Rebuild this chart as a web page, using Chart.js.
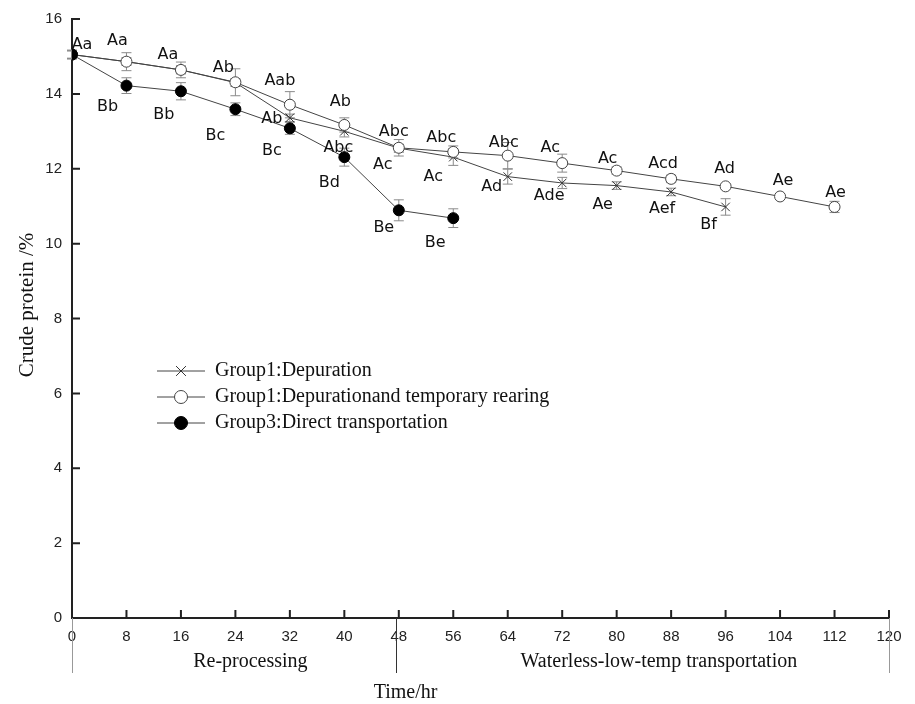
<!DOCTYPE html>
<html>
<head>
<meta charset="utf-8">
<script src="https://cdn.jsdelivr.net/npm/chart.js@4.4.0/dist/chart.umd.min.js"></script>
<style>
  html, body { margin: 0; padding: 0; background: #fff; }
  #wrap { width: 915px; height: 704px; }
</style>
</head>
<body>
<div id="wrap"><canvas id="chart" width="915" height="704"></canvas></div>
<script>
// sampling times (hr)
const hours = [0, 8, 16, 24, 32, 40, 48, 56, 64, 72, 80, 88, 96, 104, 112];
const xTickValues = [0, 8, 16, 24, 32, 40, 48, 56, 64, 72, 80, 88, 96, 104, 112, 120];
const yTickValues = [0, 2, 4, 6, 8, 10, 12, 14, 16];

// Group1: Depuration
const depValues = [15.05, 14.86, 14.64, 14.30, 13.36, 13.00, 12.55, 12.31, 11.79, 11.62, 11.55, 11.38, 10.98];
const depErrors = [0.10, 0.10, 0.10, 0.10, 0.10, 0.15, 0.10, 0.22, 0.20, 0.15, 0.10, 0.10, 0.22];
const depLetters = ['', '', '', '', 'Ab', 'Abc', 'Ac', 'Ac', 'Ad', 'Ade', 'Ae', 'Aef', 'Bf'];

// Group1: Depuration and temporary rearing
const rearValues = [15.05, 14.86, 14.64, 14.31, 13.71, 13.17, 12.56, 12.45, 12.35, 12.15, 11.95, 11.73, 11.53, 11.26, 10.98];
const rearErrors = [0.10, 0.24, 0.21, 0.36, 0.35, 0.19, 0.22, 0.16, 0.35, 0.24, 0.10, 0.10, 0.05, 0.05, 0.15];
const rearLetters = ['Aa', 'Aa', 'Aa', 'Ab', 'Aab', 'Ab', 'Abc', 'Abc', 'Abc', 'Ac', 'Ac', 'Acd', 'Ad', 'Ae', 'Ae'];

// Group3: Direct transportation
const directValues = [15.05, 14.22, 14.07, 13.59, 13.08, 12.31, 10.89, 10.68];
const directErrors = [0.12, 0.21, 0.23, 0.17, 0.16, 0.24, 0.28, 0.25];
const directLetters = ['', 'Bb', 'Bb', 'Bc', 'Bc', 'Bd', 'Be', 'Be'];

const seriesNames = ['Group1:Depuration', 'Group1:Depurationand temporary rearing', 'Group3:Direct transportation'];
const stageNames = ['Re-processing', 'Waterless-low-temp transportation'];
const stageBounds = [0, 48, 120];

// letter label offsets from the point (px)
const depOffsets = [[0,0],[0,0],[0,0],[0,0],[-18,1],[-6,17],[-16,17],[-20,20],[-16,10],[-13,13],[-14,19],[-9,17],[-17,18]];
const rearOffsets = [[10,-10],[-9,-21],[-13,-15],[-12,-14],[-10,-24],[-4,-23],[-5,-16],[-12,-14],[-4,-13],[-12,-15],[-9,-12],[-8,-15],[-1,-18],[3,-16],[1,-14]];
const directOffsets = [[0,0],[-19,21],[-17,24],[-20,27],[-18,23],[-15,26],[-15,18],[-18,25]];

const toPoints = vals => vals.map((v, i) => ({ x: hours[i], y: v }));

const errorSets = [depErrors, rearErrors, directErrors];
const letterSets = [depLetters, rearLetters, directLetters];
const offsetSets = [depOffsets, rearOffsets, directOffsets];

const decor = {
    id: 'decor',
    beforeDatasetsDraw(chart) {
        const ctx = chart.ctx;
        const y = chart.scales.y;
        ctx.save();
        ctx.strokeStyle = '#8a8a8a';
        ctx.lineWidth = 1;
        chart.data.datasets.forEach((ds, di) => {
            const meta = chart.getDatasetMeta(di);
            meta.data.forEach((pt, i) => {
                const v = ds.data[i].y, e = errorSets[di][i];
                const top = y.getPixelForValue(v + e), bot = y.getPixelForValue(v - e);
                ctx.beginPath();
                ctx.moveTo(pt.x, top); ctx.lineTo(pt.x, bot);
                ctx.moveTo(pt.x - 5, top); ctx.lineTo(pt.x + 5, top);
                ctx.moveTo(pt.x - 5, bot); ctx.lineTo(pt.x + 5, bot);
                ctx.stroke();
            });
        });
        ctx.restore();
    },
    afterDraw(chart) {
        const ctx = chart.ctx;
        const xs = chart.scales.x, ys = chart.scales.y;
        const area = chart.chartArea;
        ctx.save();

        // inward tick marks
        ctx.strokeStyle = '#222';
        ctx.lineWidth = 2;
        ctx.beginPath();
        xTickValues.forEach(v => {
            const px = xs.getPixelForValue(v);
            ctx.moveTo(px, area.bottom); ctx.lineTo(px, area.bottom - 8);
        });
        yTickValues.forEach(v => {
            const py = ys.getPixelForValue(v);
            ctx.moveTo(area.left, py); ctx.lineTo(area.left + 8, py);
        });
        ctx.stroke();

        // stage separators
        stageBounds.forEach((b, i) => {
            const px = Math.round(xs.getPixelForValue(b)) + (i === 1 ? -3 : 0) + 0.5;
            ctx.strokeStyle = i === 1 ? '#333' : '#999';
            ctx.lineWidth = 1;
            ctx.beginPath();
            ctx.moveTo(px, area.bottom); ctx.lineTo(px, area.bottom + 55);
            ctx.stroke();
        });

        // stage names and axis titles
        ctx.fillStyle = '#111';
        ctx.font = '20px "Liberation Serif", serif';
        ctx.textAlign = 'center';
        ctx.textBaseline = 'middle';
        stageNames.forEach((s, i) => {
            const mid = (xs.getPixelForValue(stageBounds[i]) + xs.getPixelForValue(stageBounds[i + 1])) / 2;
            ctx.fillText(s, mid + 15, area.bottom + 44);
        });
        ctx.fillText('Time/hr', xs.getPixelForValue(49), area.bottom + 75);
        ctx.save();
        ctx.translate(27, 305);
        ctx.rotate(-Math.PI / 2);
        ctx.font = '21px "Liberation Serif", serif';
        ctx.fillText('Crude protein /%', 0, 0);
        ctx.restore();

        // significance letters
        ctx.font = '16px "DejaVu Sans", sans-serif';
        chart.data.datasets.forEach((ds, di) => {
            const meta = chart.getDatasetMeta(di);
            meta.data.forEach((pt, i) => {
                const t = letterSets[di][i];
                if (!t) return;
                const off = offsetSets[di][i];
                ctx.fillText(t, pt.x + off[0], pt.y + off[1]);
            });
        });

        // legend
        const rows = [371, 397, 423];
        chart.data.datasets.forEach((ds, di) => {
            const ry = rows[di];
            ctx.strokeStyle = '#444';
            ctx.lineWidth = 1;
            ctx.beginPath();
            ctx.moveTo(157, ry); ctx.lineTo(205, ry);
            ctx.stroke();
            ctx.fillStyle = ds.pointBackgroundColor;
            ctx.strokeStyle = ds.pointBorderColor;
            ctx.lineWidth = ds.pointBorderWidth;
            Chart.helpers.drawPoint(ctx, {
                pointStyle: ds.pointStyle,
                radius: ds.pointRadius + 1,
                rotation: 0,
                borderWidth: ds.pointBorderWidth
            }, 181, ry);
            ctx.fillStyle = '#111';
            ctx.font = '20px "Liberation Serif", serif';
            ctx.textAlign = 'left';
            ctx.fillText(seriesNames[di], 215, ry);
        });
        ctx.restore();
    }
};

new Chart(document.getElementById('chart'), {
    type: 'line',
    data: {
        datasets: [
            {
                label: seriesNames[0],
                data: toPoints(depValues),
                order: 2,
                borderColor: '#444',
                borderWidth: 1,
                pointStyle: 'crossRot',
                pointRadius: 6,
                pointBorderColor: '#333',
                pointBackgroundColor: '#fff',
                pointBorderWidth: 1,
                tension: 0
            },
            {
                label: seriesNames[1],
                data: toPoints(rearValues),
                order: 1,
                borderColor: '#444',
                borderWidth: 1,
                pointStyle: 'circle',
                pointRadius: 5.5,
                pointBorderColor: '#444',
                pointBackgroundColor: '#fff',
                pointBorderWidth: 1,
                tension: 0
            },
            {
                label: seriesNames[2],
                data: toPoints(directValues),
                order: 0,
                borderColor: '#444',
                borderWidth: 1,
                pointStyle: 'circle',
                pointRadius: 5.5,
                pointBorderColor: '#000',
                pointBackgroundColor: '#000',
                pointBorderWidth: 1,
                tension: 0
            }
        ]
    },
    options: {
        responsive: false,
        animation: false,
        layout: { padding: { top: 17, right: 26, left: 0, bottom: 0 } },
        plugins: {
            legend: { display: false },
            tooltip: { enabled: false }
        },
        scales: {
            x: {
                type: 'linear',
                min: 0,
                max: 120,
                afterFit(scale) { scale.height = 86; },
                afterBuildTicks(scale) { scale.ticks = xTickValues.map(v => ({ value: v })); },
                grid: { display: false, drawTicks: false },
                border: { display: true, color: '#222', width: 2 },
                ticks: {
                    padding: 10,
                    maxRotation: 0,
                    autoSkip: false,
                    color: '#222',
                    font: { family: '"Liberation Sans", Arial, sans-serif', size: 15 }
                }
            },
            y: {
                min: 0,
                max: 16,
                afterFit(scale) { scale.width = 72; },
                afterBuildTicks(scale) { scale.ticks = yTickValues.map(v => ({ value: v })); },
                grid: { display: false, drawTicks: false },
                border: { display: true, color: '#222', width: 2 },
                ticks: {
                    padding: 10,
                    color: '#222',
                    font: { family: '"Liberation Sans", Arial, sans-serif', size: 15 }
                }
            }
        }
    },
    plugins: [decor]
});
</script>
</body>
</html>
